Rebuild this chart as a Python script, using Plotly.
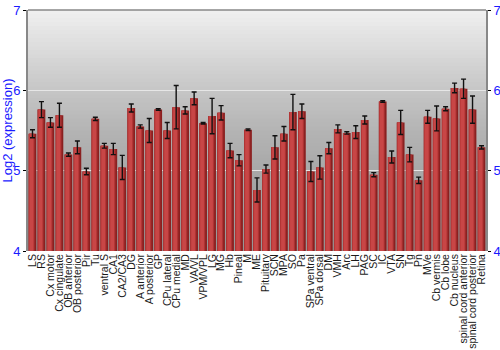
import plotly.graph_objects as go

regions = ["LS", "RS", "Cx motor", "Cx cingulate", "OB anterior", "OB posterior", "Pir", "Tu",
           "ventral S", "CA1", "CA2/CA3", "DG", "A anterior", "A posterior", "GP", "CPu lateral",
           "CPu medial", "MD", "VA/VL", "VPM/VPL", "LG", "MG", "Hb", "Pineal", "M", "ME",
           "Pituitary", "SCN", "MPA", "SO", "Pa", "SPa ventral", "SPa dorsal", "DM", "VMH", "Arc",
           "LH", "PAG", "SC", "IC", "VTA", "SN", "Tg", "Pn", "MVe", "Cb vermis", "Cb lobe",
           "Cb nucleus", "spinal cord anterior", "spinal cord posterior", "Retina"]

expression = [5.46, 5.76, 5.60, 5.69, 5.20, 5.29, 4.99, 5.645,
              5.31, 5.27, 5.04, 5.78, 5.55, 5.50, 5.76, 5.50,
              5.79, 5.75, 5.90, 5.59, 5.68, 5.72, 5.25, 5.13, 5.51, 4.76,
              5.02, 5.29, 5.46, 5.73, 5.74, 4.99, 5.04, 5.28, 5.52, 5.47,
              5.48, 5.63, 4.95, 5.86, 5.17, 5.60, 5.20, 4.88, 5.67, 5.65, 5.77,
              6.03, 6.02, 5.76, 5.29]

error = [0.05, 0.10, 0.06, 0.15, 0.02, 0.08, 0.04, 0.02,
         0.03, 0.07, 0.15, 0.05, 0.02, 0.15, 0.01, 0.10,
         0.27, 0.045, 0.08, 0.01, 0.22, 0.09, 0.09, 0.07, 0.01, 0.15,
         0.05, 0.145, 0.09, 0.22, 0.09, 0.125, 0.145, 0.07, 0.05, 0.015,
         0.08, 0.05, 0.025, 0.01, 0.075, 0.15, 0.09, 0.04, 0.08, 0.155, 0.025,
         0.06, 0.12, 0.17, 0.02]

BAR_W = 0.86
fig = go.Figure()

# cylinder-like shading made of overlaid bar layers
layers = [
    (0.00, 1.00, "#8a2020"),
    (0.00, 0.78, "#a83030"),
    (0.04, 0.62, "#ba3a3a"),
    (0.14, 0.46, "#c84646"),
]
for start, frac, col in layers:
    fig.add_trace(go.Bar(
        x=regions, y=expression,
        width=BAR_W * frac, offset=-BAR_W / 2 + BAR_W * start,
        marker=dict(color=col, line=dict(width=0)),
        showlegend=False, hoverinfo="skip",
    ))

# error bars
fig.add_trace(go.Bar(
    x=regions, y=expression, width=BAR_W,
    marker=dict(color="rgba(0,0,0,0)", line=dict(width=0)),
    error_y=dict(type="data", array=error, color="#111111", thickness=1.4, width=2.5),
    showlegend=False,
))

# invisible trace for the right axis
fig.add_trace(go.Scatter(x=[regions[0]], y=[4.5], yaxis="y2", mode="markers",
                         marker=dict(opacity=0), showlegend=False, hoverinfo="skip"))

# background gradient bands
stops = [(0.0, 150), (0.33, 168), (0.5, 180), (0.67, 198), (1.0, 240)]
def grey(t):
    for (a, ca), (b, cb) in zip(stops[:-1], stops[1:]):
        if a <= t <= b:
            return int(round(ca + (cb - ca) * (t - a) / (b - a)))
    return stops[-1][1]

shapes = []
N = 60
for i in range(N):
    t0 = i / N
    g = grey(t0 + 0.5 / N)
    shapes.append(dict(type="rect", xref="paper", yref="paper", x0=0, x1=1, y0=t0, y1=1,
                       fillcolor=f"rgb({g},{g},{g})", line=dict(width=0), layer="below"))
shapes.append(dict(type="line", xref="paper", yref="paper", x0=0, x1=1, y0=1, y1=1,
                   line=dict(color="#888888", width=1.5)))

tickfont = dict(family="Liberation Sans, Arial", size=13, color="#1a1aff")
fig.update_layout(
    width=500, height=350,
    margin=dict(l=28, r=14, t=10, b=99),
    barmode="overlay", bargap=0.14,
    paper_bgcolor="white", plot_bgcolor="rgba(0,0,0,0)",
    shapes=shapes,
    xaxis=dict(tickangle=-90, tickfont=dict(family="Liberation Sans, Arial", size=10.5, color="#1a1a1a"),
               tickmode="array", tickvals=regions, ticktext=regions,
               range=[-0.5, len(regions) - 0.5],
               showgrid=False, ticks="", showline=False, zeroline=False, automargin=False),
    yaxis=dict(range=[4, 7], tickvals=[4, 5, 6, 7], tickfont=tickfont, automargin=False,
               ticks="outside", ticklen=3, tickcolor="black",
               showline=True, linecolor="#888888", linewidth=2,
               showgrid=True, gridcolor="#e6e6e6", gridwidth=1.2, zeroline=False,
               title=dict(text="Log2 (expression)", standoff=3,
                          font=dict(family="Liberation Sans, Arial", size=13, color="#1a1aff"))),
    yaxis2=dict(range=[4, 7], tickvals=[4, 5, 6, 7], tickfont=tickfont, overlaying="y", side="right",
                automargin=False, ticks="outside", ticklen=3, tickcolor="black",
                showline=True, linecolor="#888888", linewidth=2, showgrid=False, zeroline=False),
)

fig.write_html("out.html")
